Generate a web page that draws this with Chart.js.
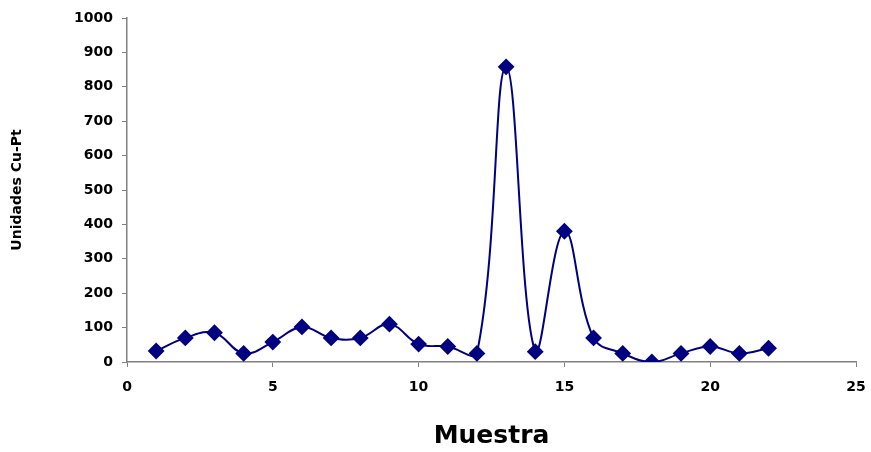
<!DOCTYPE html>
<html>
<head>
<meta charset="utf-8">
<script src="https://cdn.jsdelivr.net/npm/chart.js@4/dist/chart.umd.min.js"></script>
<style>
  html, body { margin: 0; padding: 0; background: #fff; }
</style>
</head>
<body>
<canvas id="myChart" width="871" height="452"></canvas>
<script>
// muestra number and Cu-Pt units
const muestras = [1, 2, 3, 4, 5, 6, 7, 8, 9, 10, 11, 12, 13, 14, 15, 16, 17, 18, 19, 20, 21, 22]
const unidades = [32, 70, 85, 25, 58, 102, 70, 70, 110, 52, 45, 25, 858, 30, 380, 70, 25, 0, 25, 45, 25, 40]
const xTicks = [0, 5, 10, 15, 20, 25]
const yTicks = [0, 100, 200, 300, 400, 500, 600, 700, 800, 900, 1000]

const points = muestras.map((m, i) => ({x: m, y: unidades[i]}))
const tickFont = {family: 'DejaVu Sans', size: 14, weight: 'bold'}

const ctx = document.getElementById('myChart')
new Chart(ctx, {
  type: 'scatter',
  data: {
    datasets: [{
      data: points,
      showLine: true,
      tension: 0.4,
      borderColor: '#000080',
      backgroundColor: '#000080',
      borderWidth: 2,
      pointStyle: 'rectRot',
      pointRadius: 7,
      pointHoverRadius: 7
    }]
  },
  options: {
    responsive: false,
    animation: false,
    layout: { padding: { top: 18, right: 15, left: 0, bottom: 0 } },
    plugins: { legend: { display: false }, tooltip: { enabled: false } },
    scales: {
      x: {
        type: 'linear',
        min: xTicks[0],
        max: xTicks[xTicks.length - 1],
        afterBuildTicks: s => { s.ticks = xTicks.map(v => ({value: v})) },
        afterFit: s => { s.height = 90; s.paddingRight = 0; s.paddingLeft = 0 },
        border: { color: '#808080', width: 1.5 },
        grid: { drawOnChartArea: false, drawTicks: true, tickLength: 5, color: '#808080' },
        ticks: { color: '#000', font: tickFont, padding: 12, callback: v => String(v) },
        title: {
          display: true,
          text: 'Muestra',
          color: '#000',
          font: {family: 'DejaVu Sans', size: 25, weight: 'bold'},
          padding: { top: 0, bottom: 1 }
        }
      },
      y: {
        min: yTicks[0],
        max: yTicks[yTicks.length - 1],
        afterBuildTicks: s => { s.ticks = yTicks.map(v => ({value: v})) },
        afterFit: s => { s.width = 127; s.paddingTop = 0; s.paddingBottom = 0 },
        border: { color: '#808080', width: 1.5 },
        grid: { drawOnChartArea: false, drawTicks: true, tickLength: 5, color: '#808080' },
        ticks: { color: '#000', font: tickFont, padding: 9, callback: v => String(v) },
        title: {
          display: true,
          text: 'Unidades Cu-Pt',
          color: '#000',
          font: {family: 'DejaVu Sans', size: 14, weight: 'bold'},
          padding: { top: 9, bottom: 0 }
        }
      }
    }
  }
})
</script>
</body>
</html>
